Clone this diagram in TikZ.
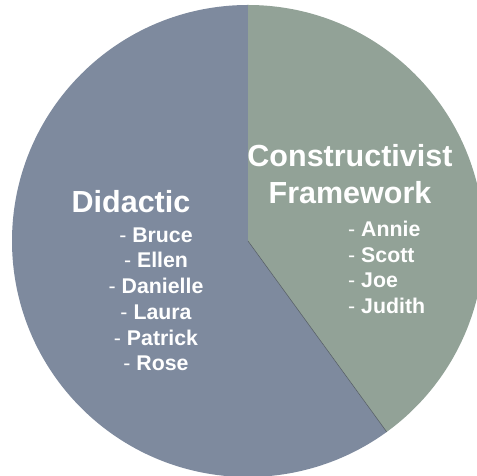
\documentclass[tikz,border=0pt]{standalone}
\usepackage{fontspec}
\setmainfont{Liberation Sans}
\definecolor{didblue}{RGB}{126,138,158}
\definecolor{congreen}{RGB}{146,162,151}
\definecolor{edgegrey}{RGB}{80,88,96}
\begin{document}
\begin{tikzpicture}[x=1pt,y=1pt,
  head/.style={text=white,font=\fontsize{30.5}{36}\selectfont\bfseries,anchor=base,inner sep=0pt},
  member/.style={text=white,font=\fontsize{21.3}{25}\selectfont\bfseries,anchor=base,inner sep=0pt},
  memberw/.style={member,anchor=base west}]
\useasboundingbox (0,0) rectangle (477,476);
\clip (0,0) rectangle (477,476);
% pie centre and the point where the two slices meet on the rim
\coordinate (c) at (248,235);
\coordinate (top) at ([shift={(90:236)}]c);
\coordinate (rim) at ([shift={(306:236)}]c);
% slices: 60% didactic, 40% constructivist
\fill[didblue] (c) -- (top) arc[start angle=90,end angle=306,radius=236] -- cycle;
\fill[congreen] (c) -- (top) arc[start angle=90,end angle=-54,radius=236] -- cycle;
\draw[edgegrey,line width=0.5pt] (c) -- (rim);
% didactic slice
\node[head] (did) at (131,263) {Didactic};
\node[member] (bruce) at (156,233) {\mdseries- \bfseries Bruce};
\node[member] (ellen) at (156,208) {\mdseries- \bfseries Ellen};
\node[member] (danielle) at (156,182) {\mdseries- \bfseries Danielle};
\node[member] (laura) at (156,156) {\mdseries- \bfseries Laura};
\node[member] (patrick) at (156,130) {\mdseries- \bfseries Patrick};
\node[member] (rose) at (156,105) {\mdseries- \bfseries Rose};
% constructivist slice
\node[head] (con1) at (350,309) {Constructivist};
\node[head] (con2) at (350,272) {Framework};
\node[memberw] (annie) at (348,239) {\mdseries- \bfseries Annie};
\node[memberw] (scott) at (348,213) {\mdseries- \bfseries Scott};
\node[memberw] (joe) at (348,188) {\mdseries- \bfseries Joe};
\node[memberw] (judith) at (348,162) {\mdseries- \bfseries Judith};
\end{tikzpicture}
\end{document}
